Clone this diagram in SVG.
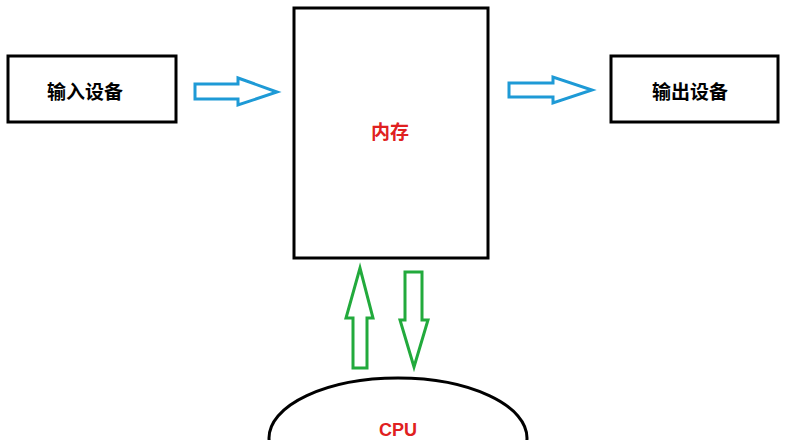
<svg xmlns="http://www.w3.org/2000/svg" width="806" height="440" viewBox="0 0 806 440">
<style>
.box{fill:#fff;stroke:#000;stroke-width:3}
.blue{fill:#fff;stroke:#1e9ad6;stroke-width:3;stroke-linejoin:miter}
.green{fill:#fff;stroke:#22aa3c;stroke-width:3}
.t{font-family:"Noto Sans CJK SC","Liberation Sans",sans-serif;font-weight:bold;font-size:19px;text-anchor:middle;dominant-baseline:central}
</style>
<rect width="806" height="440" fill="#fff"/>
<g id="input"><rect class="box" x="8" y="56" width="168" height="66"/><text class="t" x="85" y="90">输入设备</text></g>
<g id="memory"><rect class="box" x="294" y="8" width="194" height="250"/><text class="t" x="390" y="130" fill="#e02020">内存</text></g>
<g id="output"><rect class="box" x="611" y="56" width="167" height="66"/><text class="t" x="690" y="90">输出设备</text></g>
<g id="cpu"><ellipse class="box" cx="398" cy="438" rx="129" ry="60"/><text x="398" y="436" fill="#e02020" font-family="Liberation Sans,sans-serif" font-weight="bold" font-size="18" text-anchor="middle">CPU</text></g>
<g id="connectors">
<path class="blue" d="M195,84 H238 V78 L277,92 L238,105 V99 H195 Z"/>
<path class="blue" d="M509,83 H553 V77 L592,90 L553,103 V97 H509 Z"/>
<path class="green" d="M353,368 V318 H346 L360,268 L373,318 H367 V368 Z"/>
<path class="green" d="M405,272 H422 V320 H428 L414,367 L400,320 H405 Z"/>
</g>
</svg>
